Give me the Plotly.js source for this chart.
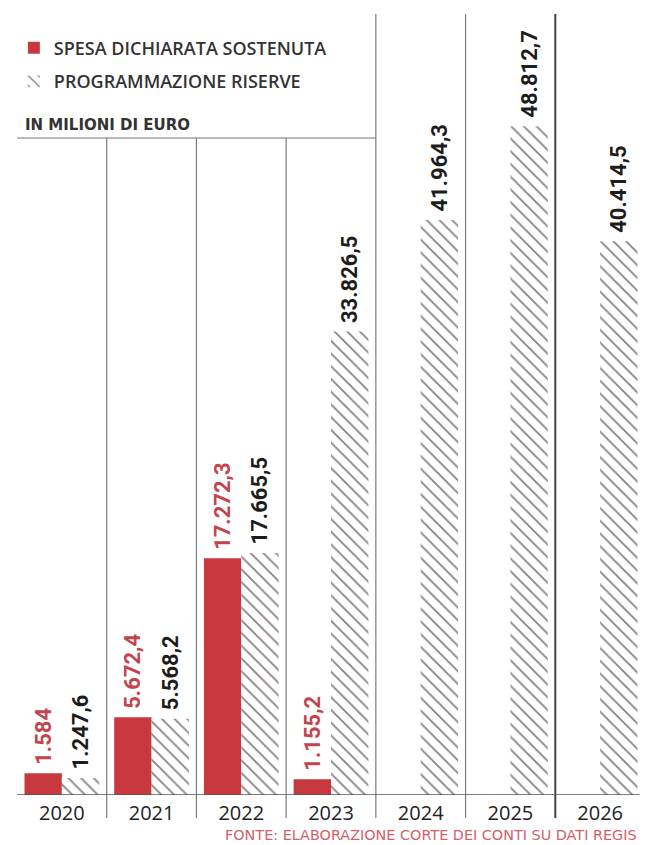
<!DOCTYPE html>
<html>
<head>
<meta charset="utf-8">
<script src="https://cdn.plot.ly/plotly-3.0.1.min.js"></script>
<style>
  html, body { margin: 0; padding: 0; background: #ffffff; }
  #chart { width: 645px; height: 845px; }
</style>
</head>
<body>
<div id="chart"></div>
<script>
// ---- data (millions of euro) ----
const years = ['2020', '2021', '2022', '2023', '2024', '2025', '2026'];
const spesaDichiarata = [1584, 5672.4, 17272.3, 1155.2, null, null, null];
const programmazioneRiserve = [1247.6, 5568.2, 17665.5, 33826.5, 41964.3, 48812.7, 40414.5];
const seriesNames = ['SPESA DICHIARATA SOSTENUTA', 'PROGRAMMAZIONE RISERVE'];

// Italian number format: thousands '.', decimals ','
function fmtIt(v) {
  if (v === null || v === undefined) return '';
  const isInt = Math.abs(v - Math.round(v)) < 1e-9;
  const s = isInt ? String(Math.round(v)) : v.toFixed(1);
  const parts = s.split('.');
  const intPart = parts[0].replace(/\B(?=(\d{3})+(?!\d))/g, '.');
  return parts.length > 1 ? intPart + ',' + parts[1] : intPart;
}
// small leading gap between bar top and its rotated label
function label(v) { const t = fmtIt(v); return t ? '\u00a0' + t : ''; }

const RED = '#c8393f';
const LABEL_FONT = 'Roboto, "DejaVu Sans", sans-serif';
const TEXT_FONT = '"Open Sans", "DejaVu Sans", sans-serif';
const SMALL_FONT = '"DejaVu Sans", "Open Sans", sans-serif';

const traces = [
  {
    type: 'bar',
    name: seriesNames[0],
    legendgroup: 'a',
    x: years,
    y: spesaDichiarata,
    text: spesaDichiarata.map(label),
    textposition: 'outside',
    textangle: -90,
    constraintext: 'none',
    cliponaxis: false,
    textfont: { family: LABEL_FONT, size: 22, color: '#c4444e', weight: 'bold' },
    marker: { color: RED, line: { width: 0 } },
    hoverinfo: 'skip'
  },
  {
    type: 'bar',
    name: seriesNames[1],
    legendgroup: 'b',
    x: years,
    y: programmazioneRiserve,
    text: programmazioneRiserve.map(label),
    textposition: 'outside',
    textangle: -90,
    constraintext: 'none',
    cliponaxis: false,
    textfont: { family: LABEL_FONT, size: 22, color: '#1c1c1c', weight: 'bold' },
    marker: {
      color: '#ffffff',
      line: { width: 0 },
      pattern: { shape: '\\', fgcolor: '#8a8284', bgcolor: '#ffffff', size: 9, solidity: 0.2, fillmode: 'replace' }
    },
    hoverinfo: 'skip'
  }
];

const PLOT_TOP = 14, PLOT_BOTTOM = 795, PLOT_H = PLOT_BOTTOM - PLOT_TOP;
const hLineY = (PLOT_BOTTOM - 138) / PLOT_H;   // paper y of the header rule
const sepBottom = (PLOT_BOTTOM - 818) / PLOT_H; // separators run below the baseline

const shapes = [];
// header rule under "IN MILIONI DI EURO"
shapes.push({ type: 'line', xref: 'x', yref: 'paper', x0: -0.6, x1: 3.5, y0: hLineY, y1: hLineY,
  line: { color: '#777777', width: 1.2 } });
// column separators
[0.5, 1.5, 2.5, 3.5, 4.5, 5.5].forEach(function (b, i) {
  const top = i < 3 ? hLineY : 1;
  const heavy = i === 5;
  shapes.push({ type: 'line', xref: 'x', yref: 'paper', x0: b, x1: b, y0: sepBottom, y1: top,
    line: { color: heavy ? '#444444' : '#7a7a7a', width: heavy ? 2 : 1.2 } });
});
// baseline
shapes.push({ type: 'line', xref: 'x', yref: 'y', x0: -0.58, x1: 6.44, y0: 0, y1: 0,
  line: { color: '#555555', width: 1.6 } });

const layout = {
  width: 645,
  height: 845,
  margin: { l: 17, r: 0, t: PLOT_TOP, b: 845 - PLOT_BOTTOM, pad: 0 },
  paper_bgcolor: '#ffffff',
  plot_bgcolor: '#ffffff',
  barmode: 'group',
  bargap: 0.167,
  bargroupgap: 0,
  showlegend: true,
  legend: {
    x: -0.005, xanchor: 'left',
    y: 0.98, yanchor: 'top',
    bgcolor: 'rgba(0,0,0,0)',
    font: { family: TEXT_FONT, size: 18, color: '#333333', weight: 600 },
    tracegroupgap: 7,
    traceorder: 'grouped'
  },
  xaxis: {
    type: 'category',
    range: [-0.5, 6.5],
    autorange: false,
    showgrid: false,
    zeroline: false,
    showline: false,
    ticks: '',
    ticklabelstandoff: 4,
    tickfont: { family: TEXT_FONT, size: 20, color: '#222222' },
    fixedrange: true
  },
  yaxis: {
    range: [0, 57000],
    autorange: false,
    showgrid: false,
    zeroline: false,
    showline: false,
    showticklabels: false,
    ticks: '',
    fixedrange: true
  },
  shapes: shapes,
  annotations: [
    {
      xref: 'paper', yref: 'paper',
      x: (23 - 17) / 628, y: (PLOT_BOTTOM - 125) / PLOT_H,
      xanchor: 'left', yanchor: 'middle',
      text: '<b>IN MILIONI DI EURO</b>',
      showarrow: false,
      font: { family: SMALL_FONT, size: 15, color: '#333333' }
    },
    {
      xref: 'paper', yref: 'paper',
      x: 1, y: (PLOT_BOTTOM - 835) / PLOT_H,
      xanchor: 'right', yanchor: 'middle', xshift: -6,
      text: 'FONTE: ELABORAZIONE CORTE DEI CONTI SU DATI REGIS',
      showarrow: false,
      font: { family: SMALL_FONT, size: 14.4, color: '#d4606a' }
    }
  ],
  hovermode: false
};

Plotly.newPlot('chart', traces, layout, { displayModeBar: false, staticPlot: true });
</script>
</body>
</html>
